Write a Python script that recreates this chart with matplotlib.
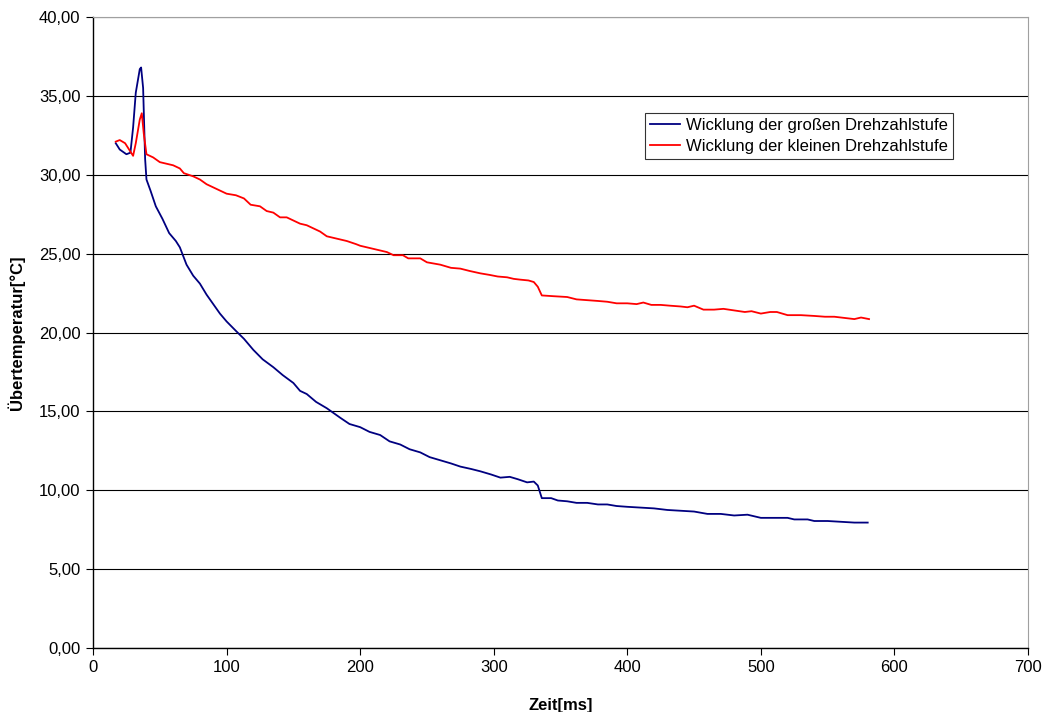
import matplotlib
matplotlib.use("Agg")
import matplotlib.pyplot as plt
from matplotlib.ticker import FuncFormatter, MultipleLocator

plt.rcParams["font.family"] = ["Liberation Sans", "DejaVu Sans"]

# winding over-temperature after switch-off, read in ms / °C
zeit_gross = [17, 20, 25, 28, 30, 32, 35, 36, 37.5, 39, 40, 43, 47, 52, 57, 62, 65, 70,
              75, 80, 85, 90, 95, 100, 107, 113, 120, 127, 135, 142, 150, 155, 160,
              167, 175, 180, 185, 192, 200, 207, 215, 222, 230, 237, 245, 252, 260,
              268, 275, 283, 290, 298, 305, 312, 318, 325, 330, 333, 336, 343, 348,
              355, 362, 370, 378, 385, 392, 400, 410, 420, 430, 440, 450, 460, 470,
              480, 490, 495, 500, 510, 520, 525, 535, 540, 550, 560, 570, 580]
temp_gross = [32.0, 31.6, 31.3, 31.4, 33.0, 35.2, 36.7, 36.8, 35.5, 31.0, 29.7, 29.0,
              28.0, 27.2, 26.3, 25.8, 25.4, 24.3, 23.6, 23.1, 22.4, 21.8, 21.2, 20.7,
              20.1, 19.6, 18.9, 18.3, 17.8, 17.3, 16.8, 16.3, 16.1, 15.6, 15.2, 14.9,
              14.6, 14.2, 14.0, 13.7, 13.5, 13.1, 12.9, 12.6, 12.4, 12.1, 11.9, 11.7,
              11.5, 11.35, 11.2, 11.0, 10.8, 10.85, 10.7, 10.5, 10.55, 10.3, 9.5, 9.5,
              9.35, 9.3, 9.2, 9.2, 9.1, 9.1, 9.0, 8.95, 8.9, 8.85, 8.75, 8.7, 8.65,
              8.5, 8.5, 8.4, 8.45, 8.35, 8.25, 8.25, 8.25, 8.15, 8.15, 8.05, 8.05,
              8.0, 7.95, 7.95]

zeit_klein = [17, 20, 24, 27, 30, 32, 35, 36.5, 38, 40, 45, 50, 55, 60, 65, 68, 75, 80,
              85, 90, 95, 100, 107, 113, 118, 125, 130, 135, 140, 145, 150, 155, 160,
              165, 170, 175, 180, 190, 197, 200, 210, 220, 225, 232, 236, 245, 250,
              260, 268, 275, 282, 290, 297, 303, 310, 315, 320, 326, 330, 333, 336,
              345, 355, 362, 370, 378, 385, 392, 400, 407, 412, 418, 425, 432, 440,
              445, 450, 457, 465, 472, 480, 488, 493, 500, 507, 512, 520, 530, 540,
              548, 555, 565, 570, 575, 581]
temp_klein = [32.1, 32.2, 32.0, 31.6, 31.2, 32.0, 33.5, 33.9, 32.6, 31.3, 31.1, 30.8,
              30.7, 30.6, 30.4, 30.1, 29.9, 29.7, 29.4, 29.2, 29.0, 28.8, 28.7, 28.5,
              28.1, 28.0, 27.7, 27.6, 27.3, 27.3, 27.1, 26.9, 26.8, 26.6, 26.4, 26.1,
              26.0, 25.8, 25.6, 25.5, 25.3, 25.1, 24.9, 24.9, 24.7, 24.7, 24.45, 24.3,
              24.1, 24.05, 23.9, 23.75, 23.65, 23.55, 23.5, 23.4, 23.35, 23.3, 23.2,
              22.9, 22.35, 22.3, 22.25, 22.1, 22.05, 22.0, 21.95, 21.85, 21.85, 21.8,
              21.9, 21.75, 21.75, 21.7, 21.65, 21.6, 21.7, 21.45, 21.45, 21.5, 21.4,
              21.3, 21.35, 21.2, 21.3, 21.3, 21.1, 21.1, 21.05, 21.0, 21.0, 20.9,
              20.85, 20.95, 20.85]

fig = plt.figure(figsize=(10.43, 7.12), dpi=100)
ax = fig.add_axes([0.0892, 0.0899, 0.8964, 0.8862])

ax.plot(zeit_gross, temp_gross, color="#000080", lw=1.3,
        label="Wicklung der großen Drehzahlstufe")
ax.plot(zeit_klein, temp_klein, color="#ff0000", lw=1.3,
        label="Wicklung der kleinen Drehzahlstufe")

ax.set_xlim(0, 700)
ax.set_ylim(0, 40)
ax.xaxis.set_major_locator(MultipleLocator(100))
ax.yaxis.set_major_locator(MultipleLocator(5))
ax.yaxis.set_major_formatter(FuncFormatter(lambda v, p: f"{v:.2f}".replace(".", ",")))
ax.grid(axis="y", color="black", lw=0.8)
ax.set_axisbelow(True)
ax.tick_params(axis="both", direction="out", length=5, width=0.8, labelsize=12,
               colors="black")
ax.tick_params(axis="x", pad=4)
ax.tick_params(axis="y", pad=4)

for side in ("top", "right"):
    ax.spines[side].set_color("#a0a0a0")
for side in ("left", "bottom"):
    ax.spines[side].set_color("black")
    ax.spines[side].set_linewidth(1.0)

ax.set_xlabel("Zeit[ms]", fontsize=12, fontweight="bold", labelpad=16)
ax.set_ylabel("Übertemperatur[°C]", fontsize=12, fontweight="bold", labelpad=10)

leg = ax.legend(loc="upper left", bbox_to_anchor=(0.590, 0.848), fontsize=12,
                frameon=True, fancybox=False, edgecolor="black", handlelength=1.8,
                borderpad=0.3, labelspacing=0.35, handletextpad=0.4,
                borderaxespad=0)
leg.get_frame().set_linewidth(0.8)

fig.savefig("out.png", dpi=100)
